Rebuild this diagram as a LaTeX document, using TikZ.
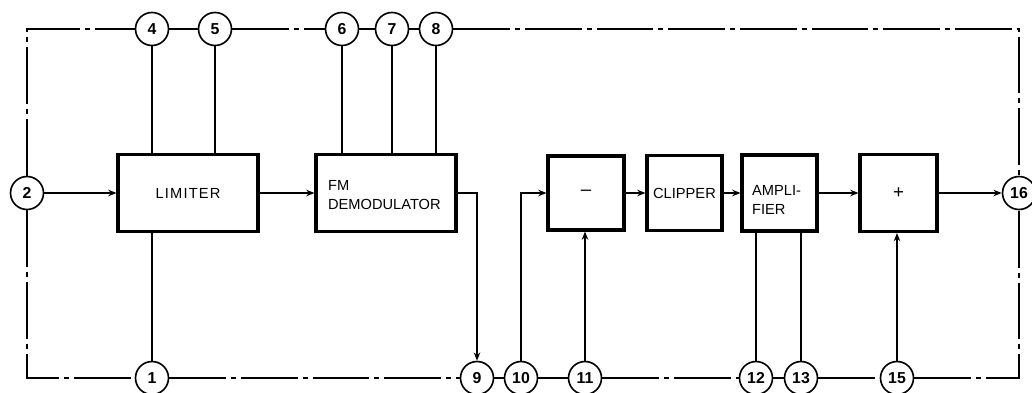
\documentclass[tikz,border=0pt]{standalone}
\usepackage{fontspec}
\setmainfont{Liberation Sans}
\usepackage{tikz}
\usetikzlibrary{arrows.meta,positioning,calc}
\tikzset{
  fmblock/.style={draw, line width=2.6pt, inner sep=0pt,
    font=\fontsize{12.5}{17}\selectfont},
  fmpin/.style={draw, circle, line width=1.4pt, fill=white, inner sep=0pt,
    minimum size=0.99cm, font=\fontsize{13.5}{14}\selectfont\bfseries},
  fmbus/.style={line width=1.1pt,
    dash pattern=on 1.7cm off 0.15cm on 0.15cm off 0.15cm},
  fmwire/.style={line width=1.1pt},
  fmsig/.style={->, >={Stealth[length=7pt,width=5.5pt]}, line width=1.1pt},
}

\begin{document}
\begin{tikzpicture}[x=0.03cm, y=-0.03cm]
\useasboundingbox (0,0) rectangle (1032,393);

%% Blocks
\node[fmblock, minimum width=4.2cm, minimum height=2.31cm] (lim) at (188,193)
  {\addfontfeatures{LetterSpace=8}LIMITER};
\node[fmblock, minimum width=4.2cm, minimum height=2.31cm] (fmd) at (386,193) {};
\node[font=\fontsize{12.5}{17}\selectfont, align=left, anchor=west] (fmdtxt)
  at (324,195) {FM\\DEMODULATOR};
\node[fmblock, minimum width=2.28cm, minimum height=2.22cm] (sub) at (586,193)
  {\fontsize{16}{16}\selectfont\textendash};
\node[fmblock, minimum width=2.25cm, minimum height=2.25cm] (clip) at (684.5,193) {CLIPPER};
\node[fmblock, minimum width=2.25cm, minimum height=2.28cm] (amp) at (779.5,193) {};
\node[font=\fontsize{12.5}{17}\selectfont, align=left, anchor=west] (amptxt)
  at (748,200) {AMPLI-\\FIER};
\node[fmblock, minimum width=2.31cm, minimum height=2.31cm] (add) at (898.5,193)
  {\fontsize{16}{16}\selectfont+};

%% Pins
\node[fmpin] (p2)  at (27,193)   {2};
\node[fmpin] (p16) at (1019,193) {16};
\node[fmpin] (p4)  at (152,29)   {4};
\node[fmpin] (p5)  at (215,29)   {5};
\node[fmpin] (p6)  at (342,29)   {6};
\node[fmpin] (p7)  at (392,29)   {7};
\node[fmpin] (p8)  at (436,29)   {8};
\node[fmpin] (p1)  at (152,378)  {1};
\node[fmpin] (p9)  at (477,378)  {9};
\node[fmpin] (p10) at (521,378)  {10};
\node[fmpin] (p11) at (585,378)  {11};
\node[fmpin] (p12) at (756,378)  {12};
\node[fmpin] (p13) at (801,378)  {13};
\node[fmpin] (p15) at (897,378)  {15};

%% Frame
\draw[fmbus] (p2.north) |- (p4.west);
\draw[fmbus] (p4) -- (p5);
\draw[fmbus] (p5) -- (p6);
\draw[fmwire] (p6) -- (p7);
\draw[fmwire] (p7) -- (p8);
\draw[fmbus] (p8.east) -| (p16.north);
\draw[fmbus] (p2.south) |- (p1.west);
\draw[fmbus] (p1) -- (p9);
\draw[fmwire] (p9) -- (p10);
\draw[fmwire] (p10) -- (p11);
\draw[fmbus] (p11) -- (p12);
\draw[fmwire] (p12) -- (p13);
\draw[fmbus] (p13) -- (p15);
\draw[fmbus] (p15.east) -| (p16.south);

%% Pin wires
\draw[fmwire] (p4) -- (p4 |- lim.north);
\draw[fmwire] (p5) -- (p5 |- lim.north);
\draw[fmwire] (p1) -- (p1 |- lim.south);
\draw[fmwire] (p6) -- (p6 |- fmd.north);
\draw[fmwire] (p7) -- (p7 |- fmd.north);
\draw[fmwire] (p8) -- (p8 |- fmd.north);
\draw[fmwire] (p12) -- (p12 |- amp.south);
\draw[fmwire] (p13) -- (p13 |- amp.south);

%% Signal path
\draw[fmsig] (p2) -- (lim);
\draw[fmsig] (lim) -- (fmd);
\draw[fmsig] (fmd.east) -| (p9.north);
\draw[fmsig] (p10.north) |- (sub.west);
\draw[fmsig] (p11) -- (p11 |- sub.south);
\draw[fmsig] (sub) -- (clip);
\draw[fmsig] (clip) -- (amp);
\draw[fmsig] (amp) -- (add);
\draw[fmsig] (p15) -- (p15 |- add.south);
\draw[fmsig] (add) -- (p16);
\end{tikzpicture}
\end{document}
